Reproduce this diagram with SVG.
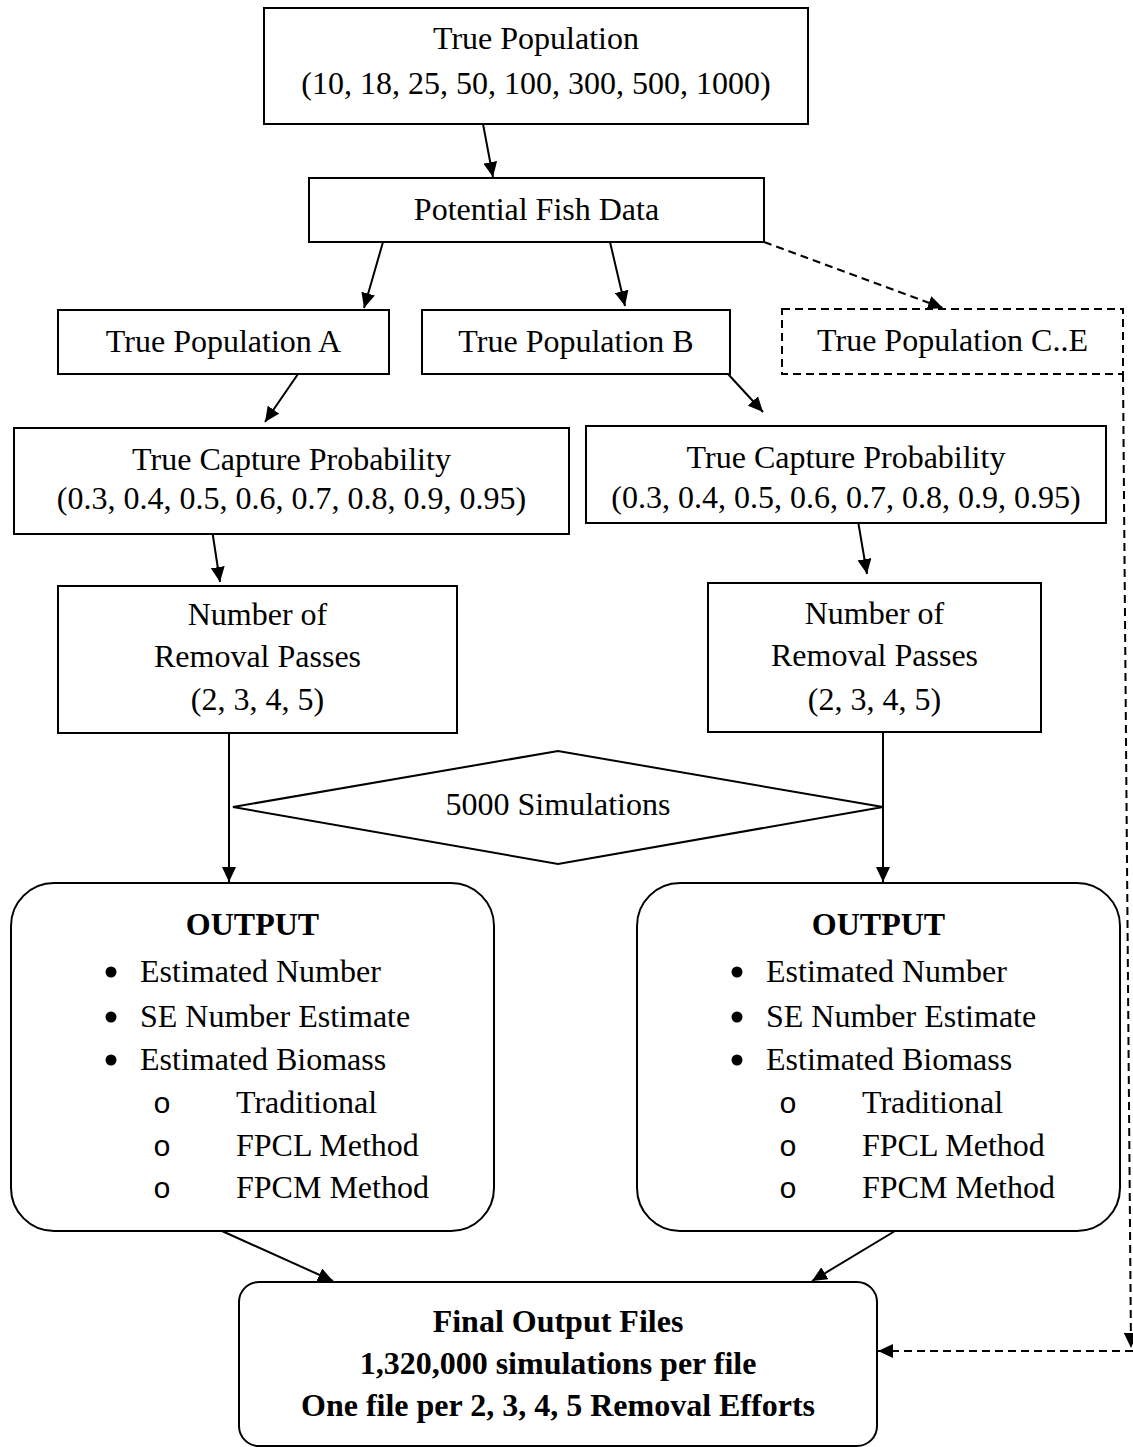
<svg xmlns="http://www.w3.org/2000/svg" width="1133" height="1447" viewBox="0 0 1133 1447">
<style>
.bx{fill:#fff;stroke:#000;stroke-width:2}
.dbx{fill:#fff;stroke:#000;stroke-width:2;stroke-dasharray:8 5}
.t{font-family:"Liberation Serif","Times New Roman",serif;font-size:32px;fill:#000}
.c{text-anchor:middle}
.b{font-weight:bold}
.m{font-family:"Liberation Mono","Courier New",monospace;font-size:30px;fill:#000}
.ln{stroke:#000;stroke-width:2;fill:none}
.dl{stroke:#000;stroke-width:2;fill:none;stroke-dasharray:8 5}
.dot{fill:#000}
</style>
<defs>
<marker id="ah" markerUnits="userSpaceOnUse" markerWidth="16" markerHeight="14" refX="15" refY="7" orient="auto">
<path d="M0,0 L15,7 L0,14 z" fill="#000"/>
</marker>
</defs>
<rect width="1133" height="1447" fill="#fff"/>
<g id="connectors">
<line class="ln" x1="483" y1="124" x2="493" y2="177" marker-end="url(#ah)"/>
<line class="ln" x1="383" y1="242" x2="364" y2="308" marker-end="url(#ah)"/>
<line class="ln" x1="610" y1="242" x2="625" y2="306" marker-end="url(#ah)"/>
<line class="dl" x1="764" y1="242" x2="943" y2="308" marker-end="url(#ah)"/>
<line class="ln" x1="298" y1="374" x2="265" y2="422" marker-end="url(#ah)"/>
<line class="ln" x1="728" y1="374" x2="763" y2="412" marker-end="url(#ah)"/>
<line class="ln" x1="211" y1="523" x2="220" y2="582" marker-end="url(#ah)"/>
<line class="ln" x1="857" y1="515" x2="867" y2="574" marker-end="url(#ah)"/>
<line class="ln" x1="229" y1="733" x2="229" y2="882" marker-end="url(#ah)"/>
<line class="ln" x1="883" y1="732" x2="883" y2="882" marker-end="url(#ah)"/>
<line class="ln" x1="222" y1="1231" x2="333" y2="1281" marker-end="url(#ah)"/>
<line class="ln" x1="895" y1="1231" x2="812" y2="1281" marker-end="url(#ah)"/>
<line class="dl" x1="1123" y1="374" x2="1131" y2="1348" marker-end="url(#ah)"/>
<line class="dl" x1="1133" y1="1351" x2="878" y2="1351" marker-end="url(#ah)"/>
</g>
<g id="true-population">
<rect class="bx" x="264" y="8" width="544" height="116"/>
<text class="t c" x="536" y="49">True Population</text>
<text class="t c" x="536" y="94">(10, 18, 25, 50, 100, 300, 500, 1000)</text>
</g>
<g id="potential-fish-data">
<rect class="bx" x="309" y="178" width="455" height="64"/>
<text class="t c" x="536.5" y="220">Potential Fish Data</text>
</g>
<g id="true-population-a">
<rect class="bx" x="58" y="310" width="331" height="64"/>
<text class="t c" x="223.5" y="352">True Population A</text>
</g>
<g id="true-population-b">
<rect class="bx" x="422" y="310" width="308" height="64"/>
<text class="t c" x="576" y="352">True Population B</text>
</g>
<g id="true-population-ce">
<rect class="dbx" x="782" y="309" width="341" height="65"/>
<text class="t c" x="952.5" y="351">True Population C..E</text>
</g>
<g id="capture-a">
<rect class="bx" x="14" y="428" width="555" height="106"/>
<text class="t c" x="291.5" y="470">True Capture Probability</text>
<text class="t c" x="291.5" y="509">(0.3, 0.4, 0.5, 0.6, 0.7, 0.8, 0.9, 0.95)</text>
</g>
<g id="capture-b">
<rect class="bx" x="586" y="426" width="520" height="97"/>
<text class="t c" x="846" y="468">True Capture Probability</text>
<text class="t c" x="846" y="508">(0.3, 0.4, 0.5, 0.6, 0.7, 0.8, 0.9, 0.95)</text>
</g>
<g id="passes-a">
<rect class="bx" x="58" y="586" width="399" height="147"/>
<text class="t c" x="257.5" y="625">Number of</text>
<text class="t c" x="257.5" y="667">Removal Passes</text>
<text class="t c" x="257.5" y="710">(2, 3, 4, 5)</text>
</g>
<g id="passes-b">
<rect class="bx" x="708" y="583" width="333" height="149"/>
<text class="t c" x="874.5" y="624">Number of</text>
<text class="t c" x="874.5" y="666">Removal Passes</text>
<text class="t c" x="874.5" y="710">(2, 3, 4, 5)</text>
</g>
<g id="simulations">
<polygon class="bx" points="233,807 558,751 883,807 558,864"/>
<text class="t c" x="558" y="815">5000 Simulations</text>
</g>
<g id="output-a">
<rect class="bx" x="11" y="883" width="483" height="348" rx="43" ry="43"/>
<text class="t c b" x="252.5" y="935">OUTPUT</text>
<circle class="dot" cx="111" cy="972" r="5.5"/>
<text class="t" x="140" y="982">Estimated Number</text>
<circle class="dot" cx="111" cy="1017" r="5.5"/>
<text class="t" x="140" y="1027">SE Number Estimate</text>
<circle class="dot" cx="111" cy="1060" r="5.5"/>
<text class="t" x="140" y="1070">Estimated Biomass</text>
<text class="m" x="153" y="1113">o</text>
<text class="t" x="236" y="1113">Traditional</text>
<text class="m" x="153" y="1156">o</text>
<text class="t" x="236" y="1156">FPCL Method</text>
<text class="m" x="153" y="1198">o</text>
<text class="t" x="236" y="1198">FPCM Method</text>
</g>
<g id="output-b">
<rect class="bx" x="637" y="883" width="483" height="348" rx="43" ry="43"/>
<text class="t c b" x="878.5" y="935">OUTPUT</text>
<circle class="dot" cx="737" cy="972" r="5.5"/>
<text class="t" x="766" y="982">Estimated Number</text>
<circle class="dot" cx="737" cy="1017" r="5.5"/>
<text class="t" x="766" y="1027">SE Number Estimate</text>
<circle class="dot" cx="737" cy="1060" r="5.5"/>
<text class="t" x="766" y="1070">Estimated Biomass</text>
<text class="m" x="779" y="1113">o</text>
<text class="t" x="862" y="1113">Traditional</text>
<text class="m" x="779" y="1156">o</text>
<text class="t" x="862" y="1156">FPCL Method</text>
<text class="m" x="779" y="1198">o</text>
<text class="t" x="862" y="1198">FPCM Method</text>
</g>
<g id="final-output">
<rect class="bx" x="239" y="1282" width="638" height="164" rx="20" ry="20"/>
<text class="t c b" x="558" y="1332">Final Output Files</text>
<text class="t c b" x="558" y="1374">1,320,000 simulations per file</text>
<text class="t c b" x="558" y="1416">One file per 2, 3, 4, 5 Removal Efforts</text>
</g>
</svg>
